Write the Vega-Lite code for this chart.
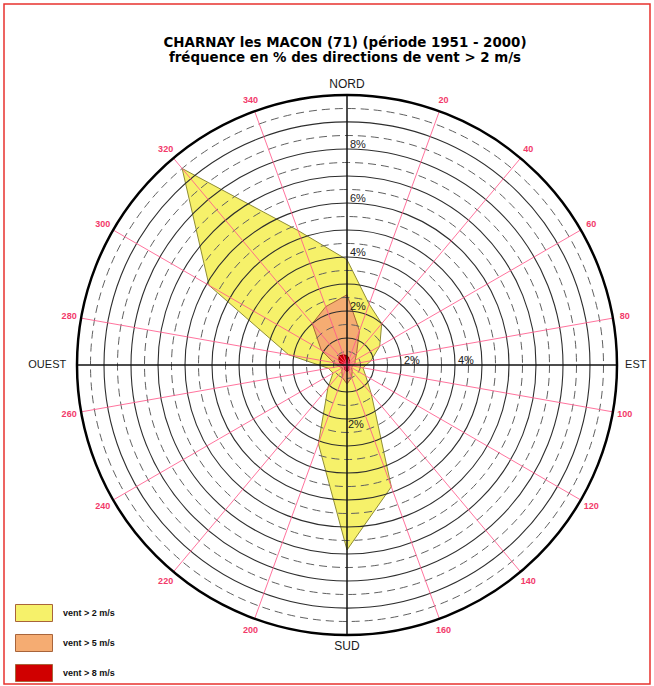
{
  "$schema": "https://vega.github.io/schema/vega-lite/v6.json",
  "width": 646,
  "height": 680,
  "autosize": {"type": "none"},
  "padding": {"left": 4, "top": 4, "right": 4, "bottom": 2},
  "background": "white",
  "config": {"view": {"stroke": "#e8322e", "strokeWidth": 1.5}, "font": "Liberation Sans"},
  "title": {
    "text": ["CHARNAY les MACON (71)  (période 1951 - 2000)", "fréquence en % des directions de vent > 2 m/s"],
    "anchor": "middle",
    "fontSize": 13.4,
    "fontWeight": "bold",
    "font": "DejaVu Sans",
    "color": "#000",
    "lineHeight": 15,
    "offset": -60,
    "dx": 18
  },
  "datasets": {
    "rose": [
      {"dir": 0, "vent": "vent > 2 m/s", "pct": 3.9},
      {"dir": 20, "vent": "vent > 2 m/s", "pct": 2.4},
      {"dir": 40, "vent": "vent > 2 m/s", "pct": 2.0},
      {"dir": 60, "vent": "vent > 2 m/s", "pct": 1.4},
      {"dir": 80, "vent": "vent > 2 m/s", "pct": 0.9},
      {"dir": 100, "vent": "vent > 2 m/s", "pct": 0.6},
      {"dir": 120, "vent": "vent > 2 m/s", "pct": 0.8},
      {"dir": 140, "vent": "vent > 2 m/s", "pct": 1.4},
      {"dir": 160, "vent": "vent > 2 m/s", "pct": 4.8},
      {"dir": 180, "vent": "vent > 2 m/s", "pct": 6.85},
      {"dir": 200, "vent": "vent > 2 m/s", "pct": 3.1},
      {"dir": 220, "vent": "vent > 2 m/s", "pct": 1.1},
      {"dir": 240, "vent": "vent > 2 m/s", "pct": 0.6},
      {"dir": 260, "vent": "vent > 2 m/s", "pct": 0.7},
      {"dir": 280, "vent": "vent > 2 m/s", "pct": 2.2},
      {"dir": 300, "vent": "vent > 2 m/s", "pct": 5.9},
      {"dir": 320, "vent": "vent > 2 m/s", "pct": 9.5},
      {"dir": 340, "vent": "vent > 2 m/s", "pct": 5.3},
      {"dir": 0, "vent": "vent > 5 m/s", "pct": 2.6},
      {"dir": 20, "vent": "vent > 5 m/s", "pct": 1.35},
      {"dir": 40, "vent": "vent > 5 m/s", "pct": 0.55},
      {"dir": 60, "vent": "vent > 5 m/s", "pct": 0.35},
      {"dir": 80, "vent": "vent > 5 m/s", "pct": 0.3},
      {"dir": 100, "vent": "vent > 5 m/s", "pct": 0.2},
      {"dir": 120, "vent": "vent > 5 m/s", "pct": 0.2},
      {"dir": 140, "vent": "vent > 5 m/s", "pct": 0.3},
      {"dir": 160, "vent": "vent > 5 m/s", "pct": 0.5},
      {"dir": 180, "vent": "vent > 5 m/s", "pct": 0.7},
      {"dir": 200, "vent": "vent > 5 m/s", "pct": 0.5},
      {"dir": 220, "vent": "vent > 5 m/s", "pct": 0.3},
      {"dir": 240, "vent": "vent > 5 m/s", "pct": 0.2},
      {"dir": 260, "vent": "vent > 5 m/s", "pct": 0.3},
      {"dir": 280, "vent": "vent > 5 m/s", "pct": 0.5},
      {"dir": 300, "vent": "vent > 5 m/s", "pct": 1.1},
      {"dir": 320, "vent": "vent > 5 m/s", "pct": 2.0},
      {"dir": 340, "vent": "vent > 5 m/s", "pct": 2.3},
      {"dir": 0, "vent": "vent > 8 m/s", "pct": 0.35},
      {"dir": 20, "vent": "vent > 8 m/s", "pct": 0.25},
      {"dir": 40, "vent": "vent > 8 m/s", "pct": 0.15},
      {"dir": 60, "vent": "vent > 8 m/s", "pct": 0.1},
      {"dir": 80, "vent": "vent > 8 m/s", "pct": 0.1},
      {"dir": 100, "vent": "vent > 8 m/s", "pct": 0.1},
      {"dir": 120, "vent": "vent > 8 m/s", "pct": 0.1},
      {"dir": 140, "vent": "vent > 8 m/s", "pct": 0.1},
      {"dir": 160, "vent": "vent > 8 m/s", "pct": 0.2},
      {"dir": 180, "vent": "vent > 8 m/s", "pct": 0.25},
      {"dir": 200, "vent": "vent > 8 m/s", "pct": 0.2},
      {"dir": 220, "vent": "vent > 8 m/s", "pct": 0.15},
      {"dir": 240, "vent": "vent > 8 m/s", "pct": 0.1},
      {"dir": 260, "vent": "vent > 8 m/s", "pct": 0.15},
      {"dir": 280, "vent": "vent > 8 m/s", "pct": 0.25},
      {"dir": 300, "vent": "vent > 8 m/s", "pct": 0.35},
      {"dir": 320, "vent": "vent > 8 m/s", "pct": 0.45},
      {"dir": 340, "vent": "vent > 8 m/s", "pct": 0.4}
    ],
    "rings": [
      {"r": 0.5}, {"r": 1}, {"r": 1.5}, {"r": 2}, {"r": 2.5}, {"r": 3}, {"r": 3.5}, {"r": 4}, {"r": 4.5}, {"r": 5},
      {"r": 5.5}, {"r": 6}, {"r": 6.5}, {"r": 7}, {"r": 7.5}, {"r": 8}, {"r": 8.5}, {"r": 9}, {"r": 9.5}, {"r": 10}
    ],
    "dirs": [
      {"dir": 20}, {"dir": 40}, {"dir": 60}, {"dir": 80}, {"dir": 100}, {"dir": 120}, {"dir": 140}, {"dir": 160},
      {"dir": 200}, {"dir": 220}, {"dir": 240}, {"dir": 260}, {"dir": 280}, {"dir": 300}, {"dir": 320}, {"dir": 340}
    ],
    "compass": [
      {"dir": 0, "label": "NORD"}, {"dir": 90, "label": "EST"}, {"dir": 180, "label": "SUD"}, {"dir": 270, "label": "OUEST"}
    ],
    "pctlabels": [
      {"dir": 0, "pct": 2}, {"dir": 0, "pct": 4}, {"dir": 0, "pct": 6}, {"dir": 0, "pct": 8},
      {"dir": 90, "pct": 2}, {"dir": 90, "pct": 4}, {"dir": 180, "pct": 2}
    ]
  },
  "layer": [
    {
      "data": {"name": "rose"},
      "transform": [
        {"filter": "datum.vent == 'vent > 2 m/s'"},
        {"calculate": "datum.pct*sin(datum.dir*PI/180)", "as": "px"},
        {"calculate": "datum.pct*cos(datum.dir*PI/180)", "as": "py"}
      ],
      "mark": {"type": "line", "filled": true, "interpolate": "linear-closed", "stroke": "#8f8c34", "strokeWidth": 1},
      "encoding": {
        "x": {"field": "px", "type": "quantitative", "scale": {"domain": [-12.7037, 11.2222], "nice": false, "zero": false}, "axis": null},
        "y": {"field": "py", "type": "quantitative", "scale": {"domain": [-11.8148, 13.3704], "nice": false, "zero": false}, "axis": null},
        "order": {"field": "dir", "type": "quantitative"},
        "color": {
          "field": "vent", "type": "nominal",
          "scale": {"domain": ["vent > 2 m/s", "vent > 5 m/s", "vent > 8 m/s"], "range": ["#f6f16a", "#f5ac72", "#d00000"]},
          "legend": {
            "orient": "none", "legendX": 11, "legendY": 590, "title": null,
            "symbolType": "M-1,-0.46L1,-0.46L1,0.46L-1,0.46Z", "symbolSize": 1369,
            "symbolStrokeColor": "#8c7a3c", "symbolStrokeWidth": 1, "symbolOpacity": 1,
            "labelFont": "Liberation Sans", "labelFontSize": 9, "labelFontWeight": "bold", "labelColor": "#111",
            "labelOffset": 10, "rowPadding": -15, "padding": 0
          }
        }
      }
    },
    {
      "data": {"name": "rose"},
      "transform": [
        {"filter": "datum.vent == 'vent > 5 m/s'"},
        {"calculate": "datum.pct*sin(datum.dir*PI/180)", "as": "px"},
        {"calculate": "datum.pct*cos(datum.dir*PI/180)", "as": "py"}
      ],
      "mark": {"type": "line", "filled": true, "interpolate": "linear-closed", "stroke": "#a8643a", "strokeWidth": 1},
      "encoding": {
        "x": {"field": "px", "type": "quantitative", "scale": {"domain": [-12.7037, 11.2222], "nice": false, "zero": false}, "axis": null},
        "y": {"field": "py", "type": "quantitative", "scale": {"domain": [-11.8148, 13.3704], "nice": false, "zero": false}, "axis": null},
        "order": {"field": "dir", "type": "quantitative"},
        "color": {"field": "vent", "type": "nominal"}
      }
    },
    {
      "data": {"name": "rose"},
      "transform": [
        {"filter": "datum.vent == 'vent > 8 m/s'"},
        {"calculate": "datum.pct*sin(datum.dir*PI/180)", "as": "px"},
        {"calculate": "datum.pct*cos(datum.dir*PI/180)", "as": "py"}
      ],
      "mark": {"type": "line", "filled": true, "interpolate": "linear-closed", "stroke": "#8a0000", "strokeWidth": 1},
      "encoding": {
        "x": {"field": "px", "type": "quantitative", "scale": {"domain": [-12.7037, 11.2222], "nice": false, "zero": false}, "axis": null},
        "y": {"field": "py", "type": "quantitative", "scale": {"domain": [-11.8148, 13.3704], "nice": false, "zero": false}, "axis": null},
        "order": {"field": "dir", "type": "quantitative"},
        "color": {"field": "vent", "type": "nominal"}
      }
    },
    {
      "data": {"name": "rings"},
      "transform": [{"filter": "datum.r % 1 != 0"}, {"calculate": "0", "as": "o"}],
      "mark": {"type": "point", "shape": "circle", "filled": false, "stroke": "#606060", "strokeWidth": 1, "strokeDash": [8, 5], "opacity": 1},
      "encoding": {
        "x": {"field": "o", "type": "quantitative", "scale": {"domain": [-12.7037, 11.2222], "nice": false, "zero": false}, "axis": null},
        "y": {"field": "o", "type": "quantitative", "scale": {"domain": [-11.8148, 13.3704], "nice": false, "zero": false}, "axis": null},
        "size": {"field": "r", "type": "quantitative", "scale": {"type": "pow", "exponent": 2, "domain": [0, 10], "range": [0, 291600], "zero": true, "nice": false}, "legend": null}
      }
    },
    {
      "data": {"name": "rings"},
      "transform": [{"filter": "datum.r % 1 == 0 && datum.r < 10"}, {"calculate": "0", "as": "o"}],
      "mark": {"type": "point", "shape": "circle", "filled": false, "stroke": "#2e2e2e", "strokeWidth": 1.1, "opacity": 1},
      "encoding": {
        "x": {"field": "o", "type": "quantitative", "scale": {"domain": [-12.7037, 11.2222], "nice": false, "zero": false}, "axis": null},
        "y": {"field": "o", "type": "quantitative", "scale": {"domain": [-11.8148, 13.3704], "nice": false, "zero": false}, "axis": null},
        "size": {"field": "r", "type": "quantitative", "scale": {"type": "pow", "exponent": 2, "domain": [0, 10], "range": [0, 291600], "zero": true, "nice": false}, "legend": null}
      }
    },
    {
      "data": {"name": "dirs"},
      "transform": [
        {"calculate": "0", "as": "o"},
        {"calculate": "10*sin(datum.dir*PI/180)", "as": "ex"},
        {"calculate": "10*cos(datum.dir*PI/180)", "as": "ey"}
      ],
      "mark": {"type": "rule", "stroke": "#ff5a8c", "strokeWidth": 1, "opacity": 0.85},
      "encoding": {
        "x": {"field": "o", "type": "quantitative", "scale": {"domain": [-12.7037, 11.2222], "nice": false, "zero": false}, "axis": null},
        "y": {"field": "o", "type": "quantitative", "scale": {"domain": [-11.8148, 13.3704], "nice": false, "zero": false}, "axis": null},
        "x2": {"field": "ex"},
        "y2": {"field": "ey"}
      }
    },
    {
      "data": {"name": "compass"},
      "transform": [
        {"calculate": "0", "as": "o"},
        {"calculate": "10*sin(datum.dir*PI/180)", "as": "ex"},
        {"calculate": "10*cos(datum.dir*PI/180)", "as": "ey"}
      ],
      "mark": {"type": "rule", "stroke": "#111", "strokeWidth": 1.5},
      "encoding": {
        "x": {"field": "o", "type": "quantitative", "scale": {"domain": [-12.7037, 11.2222], "nice": false, "zero": false}, "axis": null},
        "y": {"field": "o", "type": "quantitative", "scale": {"domain": [-11.8148, 13.3704], "nice": false, "zero": false}, "axis": null},
        "x2": {"field": "ex"},
        "y2": {"field": "ey"}
      }
    },
    {
      "data": {"name": "rings"},
      "transform": [{"filter": "datum.r == 10"}, {"calculate": "0", "as": "o"}],
      "mark": {"type": "point", "shape": "circle", "filled": false, "stroke": "#000", "strokeWidth": 2.5, "opacity": 1},
      "encoding": {
        "x": {"field": "o", "type": "quantitative", "scale": {"domain": [-12.7037, 11.2222], "nice": false, "zero": false}, "axis": null},
        "y": {"field": "o", "type": "quantitative", "scale": {"domain": [-11.8148, 13.3704], "nice": false, "zero": false}, "axis": null},
        "size": {"field": "r", "type": "quantitative", "scale": {"type": "pow", "exponent": 2, "domain": [0, 10], "range": [0, 291600], "zero": true, "nice": false}, "legend": null}
      }
    },
    {
      "data": {"name": "dirs"},
      "transform": [
        {"calculate": "10.45*sin(datum.dir*PI/180)", "as": "lx"},
        {"calculate": "10.45*cos(datum.dir*PI/180)", "as": "ly"}
      ],
      "mark": {"type": "text", "align": "center", "baseline": "middle", "fontSize": 9, "fontWeight": "bold", "fill": "#f23a6a"},
      "encoding": {
        "x": {"field": "lx", "type": "quantitative", "scale": {"domain": [-12.7037, 11.2222], "nice": false, "zero": false}, "axis": null},
        "y": {"field": "ly", "type": "quantitative", "scale": {"domain": [-11.8148, 13.3704], "nice": false, "zero": false}, "axis": null},
        "text": {"field": "dir", "type": "nominal"}
      }
    },
    {
      "data": {"name": "compass"},
      "transform": [
        {"filter": "datum.dir == 0 || datum.dir == 180"},
        {"calculate": "10.4*sin(datum.dir*PI/180)", "as": "lx"},
        {"calculate": "10.4*cos(datum.dir*PI/180)", "as": "ly"}
      ],
      "mark": {"type": "text", "align": "center", "baseline": "middle", "fontSize": 12, "fill": "#1a1a1a"},
      "encoding": {
        "x": {"field": "lx", "type": "quantitative", "scale": {"domain": [-12.7037, 11.2222], "nice": false, "zero": false}, "axis": null},
        "y": {"field": "ly", "type": "quantitative", "scale": {"domain": [-11.8148, 13.3704], "nice": false, "zero": false}, "axis": null},
        "text": {"field": "label", "type": "nominal"}
      }
    },
    {
      "data": {"name": "compass"},
      "transform": [
        {"filter": "datum.dir == 90"},
        {"calculate": "10.3*sin(datum.dir*PI/180)", "as": "lx"},
        {"calculate": "10.3*cos(datum.dir*PI/180)", "as": "ly"}
      ],
      "mark": {"type": "text", "align": "left", "baseline": "middle", "fontSize": 11, "fill": "#1a1a1a"},
      "encoding": {
        "x": {"field": "lx", "type": "quantitative", "scale": {"domain": [-12.7037, 11.2222], "nice": false, "zero": false}, "axis": null},
        "y": {"field": "ly", "type": "quantitative", "scale": {"domain": [-11.8148, 13.3704], "nice": false, "zero": false}, "axis": null},
        "text": {"field": "label", "type": "nominal"}
      }
    },
    {
      "data": {"name": "compass"},
      "transform": [
        {"filter": "datum.dir == 270"},
        {"calculate": "10.4*sin(datum.dir*PI/180)", "as": "lx"},
        {"calculate": "10.4*cos(datum.dir*PI/180)", "as": "ly"}
      ],
      "mark": {"type": "text", "align": "right", "baseline": "middle", "fontSize": 11, "fill": "#1a1a1a"},
      "encoding": {
        "x": {"field": "lx", "type": "quantitative", "scale": {"domain": [-12.7037, 11.2222], "nice": false, "zero": false}, "axis": null},
        "y": {"field": "ly", "type": "quantitative", "scale": {"domain": [-11.8148, 13.3704], "nice": false, "zero": false}, "axis": null},
        "text": {"field": "label", "type": "nominal"}
      }
    },
    {
      "data": {"name": "pctlabels"},
      "transform": [
        {"filter": "datum.dir != 180"},
        {"calculate": "datum.pct*sin(datum.dir*PI/180)", "as": "lx"},
        {"calculate": "datum.pct*cos(datum.dir*PI/180)", "as": "ly"},
        {"calculate": "datum.pct + '%'", "as": "lab"}
      ],
      "mark": {"type": "text", "align": "left", "baseline": "bottom", "dx": 3, "dy": 1, "fontSize": 11, "fill": "#222"},
      "encoding": {
        "x": {"field": "lx", "type": "quantitative", "scale": {"domain": [-12.7037, 11.2222], "nice": false, "zero": false}, "axis": null},
        "y": {"field": "ly", "type": "quantitative", "scale": {"domain": [-11.8148, 13.3704], "nice": false, "zero": false}, "axis": null},
        "text": {"field": "lab", "type": "nominal"}
      }
    },
    {
      "data": {"name": "pctlabels"},
      "transform": [
        {"filter": "datum.dir == 180"},
        {"calculate": "datum.pct*sin(datum.dir*PI/180)", "as": "lx"},
        {"calculate": "datum.pct*cos(datum.dir*PI/180)", "as": "ly"},
        {"calculate": "datum.pct + '%'", "as": "lab"}
      ],
      "mark": {"type": "text", "align": "left", "baseline": "middle", "dx": 1, "dy": 6, "fontSize": 11, "fill": "#222"},
      "encoding": {
        "x": {"field": "lx", "type": "quantitative", "scale": {"domain": [-12.7037, 11.2222], "nice": false, "zero": false}, "axis": null},
        "y": {"field": "ly", "type": "quantitative", "scale": {"domain": [-11.8148, 13.3704], "nice": false, "zero": false}, "axis": null},
        "text": {"field": "lab", "type": "nominal"}
      }
    }
  ]
}
